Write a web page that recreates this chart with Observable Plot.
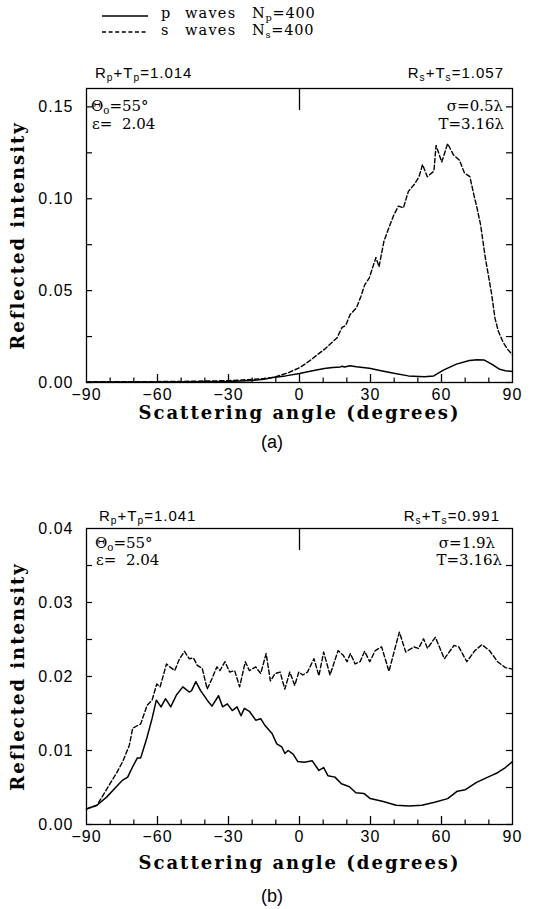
<!DOCTYPE html>
<html><head><meta charset="utf-8">
<script src="https://cdn.jsdelivr.net/npm/d3@7"></script>
<script src="https://cdn.jsdelivr.net/npm/@observablehq/plot@0.6"></script>
<style>
body{margin:0;background:#fff}
#root{position:relative;width:540px;height:909px;background:#fff;overflow:hidden}
.abs{position:absolute;white-space:nowrap;line-height:1;color:#000}
.sans{font-family:"Liberation Sans",Arial,sans-serif}
.serif{font-family:"DejaVu Serif",serif}
sub{font-size:68%;vertical-align:-0.28em;line-height:0}
</style></head><body><div id="root"></div>
<script>
// ---------- data ----------
const xLabels = [-90, -60, -30, 0, 30, 60, 90];
const xMajorTicks = [-60, -30, 0, 30, 60];
const xMinorTicks = [-80, -70, -50, -40, -20, -10, 10, 20, 40, 50, 70, 80];

const yTicksA = [0, 0.025, 0.05, 0.075, 0.10, 0.125, 0.15];
const yLabelsA = [0, 0.05, 0.10, 0.15];
const yTicksB = [0, 0.005, 0.01, 0.015, 0.02, 0.025, 0.03, 0.035];
const yLabelsB = [0, 0.01, 0.02, 0.03, 0.04];

// panel (a): s waves (dashed)
const angA_s = [-90,-80,-70,-60,-50,-40,-30,-25,-20,-15,-11,-5,0,2.3,5,7.8,10.5,13,15.9,18,19.5,21.4,24.1,26,27.5,29.5,32.3,33.6,35.7,38,39.8,41.8,43.9,46,48.6,50.5,52,54,56.8,57.7,60.1,62.6,65,67.6,69.7,72,73.7,75,76.5,78.5,80,81.2,82.6,84,86,88,90];
const valA_s = [0.0004,0.0004,0.0004,0.0005,0.0006,0.0008,0.0010,0.0013,0.0017,0.0022,0.0028,0.0052,0.0080,0.010,0.0125,0.0154,0.018,0.021,0.0244,0.030,0.031,0.037,0.0407,0.047,0.053,0.057,0.068,0.063,0.077,0.085,0.091,0.096,0.095,0.104,0.108,0.112,0.1186,0.112,0.115,0.129,0.120,0.130,0.124,0.121,0.114,0.112,0.102,0.095,0.086,0.068,0.057,0.048,0.035,0.028,0.022,0.018,0.015];
// panel (a): p waves (solid)
const angA_p = [-90,-60,-40,-30,-20,-15,-11.3,-5.9,0,5,10.5,14,17.3,18,19,21.4,24,29.5,35,40.4,46,52.7,56.7,60.8,66.3,71.8,75,77.9,81.2,84.6,87,90];
const valA_p = [0.0003,0.0003,0.0004,0.0006,0.0011,0.0017,0.0027,0.0036,0.0049,0.0063,0.0076,0.0082,0.0085,0.0088,0.0084,0.0091,0.0086,0.0078,0.0063,0.0049,0.0036,0.0031,0.0036,0.0067,0.010,0.012,0.0124,0.0123,0.010,0.0072,0.0064,0.006];

// panel (b): s waves (dashed)
const angB_s = [-90,-85.6,-82.9,-80.1,-77.4,-74.7,-71.9,-70.5,-67.1,-64.4,-62.3,-60.3,-58.9,-56.2,-54.8,-52.7,-50.7,-48.6,-46.6,-44.8,-43.2,-41.1,-39,-37,-34.9,-33.6,-31.5,-29.5,-27.4,-25.3,-22.9,-21.2,-18.5,-16.4,-14.1,-12.3,-10.3,-8.2,-6.2,-4.1,-2,-0.3,1.4,3.4,6.1,8.2,10.2,12.9,16.3,18.4,20.1,21.5,23.5,25.6,27.5,29.7,32,34.7,37.8,40.1,42.2,44.9,48.3,50.3,52.4,54.1,57.4,61.2,65.3,67.3,70.7,74.1,77.1,80.3,83.7,87,90];
const valB_s = [0.0021,0.0026,0.004,0.0055,0.0069,0.0085,0.0107,0.013,0.0136,0.0161,0.0168,0.019,0.0186,0.0217,0.0213,0.0208,0.0224,0.0234,0.0224,0.0225,0.0215,0.0211,0.0183,0.0197,0.0213,0.0208,0.022,0.0206,0.0208,0.0186,0.022,0.0208,0.0213,0.0204,0.0231,0.0194,0.0204,0.0206,0.0183,0.0206,0.0188,0.0206,0.0202,0.0206,0.0224,0.0201,0.0233,0.0202,0.0235,0.0229,0.022,0.0231,0.0217,0.022,0.0234,0.022,0.0235,0.024,0.0207,0.0235,0.026,0.0233,0.024,0.0238,0.0251,0.0238,0.0253,0.0224,0.0242,0.024,0.022,0.0235,0.0243,0.0235,0.022,0.0212,0.021];
// panel (b): p waves (solid)
const angB_p = [-90,-85.6,-81.5,-77.4,-74.7,-72.6,-70.5,-68.5,-67.1,-64.4,-62.3,-60.5,-58.5,-56.6,-54.4,-52,-49.3,-46.6,-45.6,-43.8,-41.8,-39,-37,-34.2,-32.5,-30.5,-28.4,-26.4,-24.7,-23.3,-21.2,-18.5,-16.4,-14.4,-11.6,-9.6,-7.5,-6.2,-4.8,-2.7,-0.7,2,5.4,8.2,10.2,12,15,17.7,21.1,23.8,27.2,29.9,35.4,40.8,46.3,51.7,57.1,62.6,66.7,70.1,74.8,80.3,83.7,87,90];
const valB_p = [0.0021,0.0026,0.0037,0.0051,0.006,0.0064,0.0078,0.009,0.009,0.0118,0.0143,0.0168,0.0159,0.017,0.0159,0.0175,0.0186,0.0179,0.0181,0.0193,0.0181,0.0168,0.016,0.0174,0.0159,0.0163,0.0154,0.0159,0.0147,0.0157,0.0153,0.0141,0.0143,0.0133,0.0123,0.0109,0.0105,0.0096,0.01,0.0095,0.0085,0.0084,0.0086,0.0073,0.0077,0.0066,0.0064,0.0055,0.0051,0.0043,0.0042,0.0035,0.0031,0.0026,0.0025,0.0026,0.003,0.0035,0.0045,0.0047,0.0057,0.0065,0.007,0.0077,0.0085];

const xTitle = "Scattering angle (degrees)";
const yTitle = "Reflected intensity";

// ---------- drawing ----------
const root = document.getElementById("root");
const zip = (a, v) => a.map((x, i) => ({x, y: v[i]}));

function panel({top, height, marginTop, marginBottom, yMax, yTicks, yLabels, sData, pData, xTitleDy}) {
  const marginLeft = 86, marginRight = 28;
  const frameW = 540 - marginLeft - marginRight;
  const frameH = height - marginTop - marginBottom;
  const svg = Plot.plot({
    width: 540, height, marginLeft, marginRight, marginTop, marginBottom,
    x: {domain: [-90, 90]},
    y: {domain: [0, yMax]},
    style: {background: "transparent", color: "black", overflow: "visible"},
    marks: [
      Plot.frame({stroke: "black", strokeWidth: 1.3}),
      Plot.ruleX(xMinorTicks, {x: d => d, insetTop: frameH - 4.5, strokeWidth: 1.2}),
      Plot.ruleX(xMajorTicks, {x: d => d, insetTop: frameH - 8, strokeWidth: 1.3}),
      Plot.ruleY(yTicks, {y: d => d, insetRight: frameW - 6, strokeWidth: 1.2}),
      Plot.ruleY(yTicks, {y: d => d, insetLeft: frameW - 6, strokeWidth: 1.2}),
      Plot.ruleX([0], {x: d => d, insetBottom: frameH - 22, strokeWidth: 1.3}),
      Plot.axisX(xLabels, {tickSize: 0, tickPadding: 6, fontSize: 16, fontFamily: "Liberation Sans", label: null}),
      Plot.axisY(yLabels, {tickSize: 0, tickPadding: 13, fontSize: 16, fontFamily: "Liberation Sans", tickFormat: d3.format(".2f"), label: null}),
      Plot.line(sData, {x: "x", y: "y", stroke: "black", strokeWidth: 1.4, strokeDasharray: "4.5,2.5"}),
      Plot.line(pData, {x: "x", y: "y", stroke: "black", strokeWidth: 1.5}),
      Plot.text([xTitle], {frameAnchor: "bottom", dy: xTitleDy, textAnchor: "middle", fontSize: 18, fontWeight: "bold", fontFamily: "DejaVu Serif", lineAnchor: "middle"}),
      Plot.text([yTitle], {frameAnchor: "left", dx: -68, rotate: -90, textAnchor: "middle", fontSize: 18, fontWeight: "bold", fontFamily: "DejaVu Serif", lineAnchor: "middle"})
    ]
  });
  svg.style.position = "absolute";
  svg.style.left = "0px";
  svg.style.top = top + "px";
  d3.select(svg).selectAll("text").filter(function () { return this.textContent === xTitle || this.textContent === yTitle; })
    .attr("letter-spacing", "2px");
  d3.select(svg).selectAll('g[aria-label="x-axis tick label"] text, g[aria-label="y-axis tick label"] text')
    .attr("letter-spacing", "1px");
  root.appendChild(svg);
}

panel({top: 40, height: 390, marginTop: 48, marginBottom: 48, yMax: 0.16, yTicks: yTicksA, yLabels: yLabelsA,
  sData: zip(angA_s, valA_s), pData: zip(angA_p, valA_p), xTitleDy: 31});
panel({top: 480, height: 400, marginTop: 48, marginBottom: 56, yMax: 0.04, yTicks: yTicksB, yLabels: yLabelsB,
  sData: zip(angB_s, valB_s), pData: zip(angB_p, valB_p), xTitleDy: 39});

// ---------- text overlays ----------
function put(html, {left, right, cy, size, cls, ls = 0}) {
  const d = document.createElement("div");
  d.className = "abs " + cls;
  d.innerHTML = html;
  d.style.fontSize = size + "px";
  d.style.letterSpacing = ls + "px";
  d.style.top = (cy - size * 0.52) + "px";
  if (left != null) d.style.left = left + "px";
  else d.style.right = (540 - right) + "px";
  root.appendChild(d);
  return d;
}
// legend
function swatch(cy, dash) {
  const s = document.createElementNS("http://www.w3.org/2000/svg", "svg");
  s.setAttribute("width", 46); s.setAttribute("height", 6);
  s.style.position = "absolute"; s.style.left = "102px"; s.style.top = (cy - 3) + "px";
  s.innerHTML = `<line x1="0" x2="46" y1="3" y2="3" stroke="black" stroke-width="1.4" ${dash ? 'stroke-dasharray="4,2.6"' : ""}/>`;
  root.appendChild(s);
}
swatch(15.5, false); swatch(32, true);
put("p", {left: 161, cy: 14, size: 14.5, cls: "serif"});
put("waves", {left: 185, cy: 14, size: 14.5, cls: "serif", ls: 1.2});
put("N<sub>p</sub>=400", {left: 252, cy: 14, size: 14.5, cls: "serif", ls: 0.8});
put("s", {left: 161, cy: 31, size: 14.5, cls: "serif"});
put("waves", {left: 185, cy: 31, size: 14.5, cls: "serif", ls: 1.2});
put("N<sub>s</sub>=400", {left: 252, cy: 31, size: 14.5, cls: "serif", ls: 0.8});

// panel (a) annotations
put("R<sub>p</sub>+T<sub>p</sub>=1.014", {left: 95, cy: 73, size: 15, cls: "sans", ls: 1});
put("R<sub>s</sub>+T<sub>s</sub>=1.057", {right: 504, cy: 73, size: 15, cls: "sans", ls: 1});
put("&Theta;<sub>o</sub>=55&deg;", {left: 91, cy: 107, size: 15, cls: "serif"});
put("&epsilon;=&nbsp; 2.04", {left: 92, cy: 125, size: 15, cls: "serif"});
put("&sigma;=0.5&lambda;", {right: 503, cy: 107, size: 15, cls: "serif"});
put("T=3.16&lambda;", {right: 504, cy: 125, size: 15, cls: "serif"});
const capA = put("(a)", {left: 0, cy: 442, size: 18, cls: "sans"});

// panel (b) annotations
put("R<sub>p</sub>+T<sub>p</sub>=1.041", {left: 99, cy: 516, size: 15, cls: "sans", ls: 1});
put("R<sub>s</sub>+T<sub>s</sub>=0.991", {right: 500, cy: 516, size: 15, cls: "sans", ls: 1});
put("&Theta;<sub>o</sub>=55&deg;", {left: 95, cy: 544, size: 15, cls: "serif"});
put("&epsilon;=&nbsp; 2.04", {left: 96, cy: 561, size: 15, cls: "serif"});
put("&sigma;=1.9&lambda;", {right: 495, cy: 544, size: 15, cls: "serif"});
put("T=3.16&lambda;", {right: 502, cy: 561, size: 15, cls: "serif"});
const capB = put("(b)", {left: 0, cy: 896, size: 18, cls: "sans"});

// center the captions at x = 272
[capA, capB].forEach(d => { d.style.left = (272 - d.offsetWidth / 2) + "px"; });
</script></body></html>
